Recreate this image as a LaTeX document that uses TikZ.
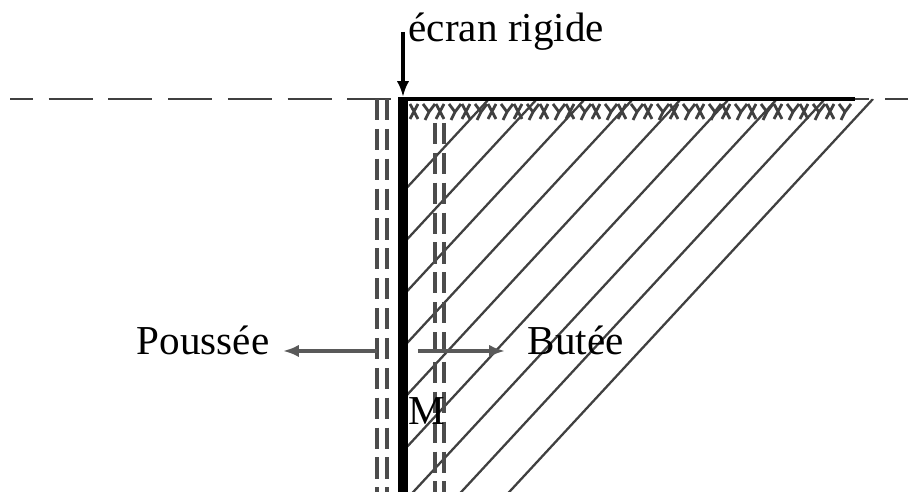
\documentclass[tikz,border=0pt]{standalone}
\usepackage{fontspec}
\setmainfont{Liberation Serif}
\usetikzlibrary{arrows.meta}
\begin{document}
\begin{tikzpicture}[
	guide/.style={dash pattern=on 6pt off 2.5pt, line width=0.9pt, black!70},
	hatch/.style={line width=0.65pt, black!75},
	soil/.style={line width=0.8pt, black!75},
	force/.style={-{Latex[length=4.5pt,width=3.5pt]}, line width=0.9pt, black!65},
	lbl/.style={font=\fontsize{11.7}{14}\selectfont, inner sep=0pt}]
	\useasboundingbox (0,0) rectangle (9.08,4.92);
	% niveau du terrain
	\draw[dash pattern=on 12.5pt off 4.5pt, dash phase=6pt, line width=0.7pt, black!75] (0.10,3.93) -- (9.08,3.93);
	% massif de sol hachure
	\begin{scope}
		\clip (4.08,0) -- (4.08,3.93) -- (8.85,3.93) -- (5.20,0) -- cycle;
		\foreach \k in {0,...,8}
			\draw[hatch] ({8.73-0.48*\k},3.93) -- ++(-4.6,-4.97);
	\end{scope}
	\foreach \s in {4.14,4.40,...,8.40}{
		\draw[soil] ({\s-0.04},3.88) -- ({\s+0.04},3.73) ({\s+0.04},3.88) -- ({\s-0.04},3.73);
		\draw[soil] ({\s+0.09},3.88) -- ({\s+0.15},3.80) -- ({\s+0.21},3.88) ({\s+0.15},3.80) -- ({\s+0.11},3.72);
	}
	\draw[line width=1.1pt] (4.00,3.93) -- (8.55,3.93);
	% zones de deplacement
	\draw[guide] (3.77,3.93) -- (3.77,0);
	\draw[guide] (3.87,3.93) -- (3.87,0);
	\draw[guide] (4.35,3.69) -- (4.35,0);
	\draw[guide] (4.44,3.69) -- (4.44,0);
	% ecran
	\draw[line width=2.6pt] (4.03,0) -- (4.03,3.95);
	\node[lbl, anchor=base west] (ecran) at (4.08,4.50) {écran rigide};
	\coordinate (haut) at (4.03,4.60);
	\coordinate (tete) at (4.03,3.95);
	\draw[force, black] (haut) -- (tete);
	\node[lbl, anchor=base east] (poussee) at (2.70,1.37) {Poussée};
	\node[lbl, anchor=base west] (butee) at (5.27,1.37) {Butée};
	\node[lbl, anchor=base west] (M) at (4.08,0.67) {M};
	\coordinate (pg) at (3.77,1.41);
	\coordinate (pd) at (2.83,1.41);
	\coordinate (bg) at (4.18,1.41);
	\coordinate (bd) at (5.05,1.41);
	\draw[force] (pg) -- (pd);
	\draw[force] (bg) -- (bd);
\end{tikzpicture}
\end{document}
